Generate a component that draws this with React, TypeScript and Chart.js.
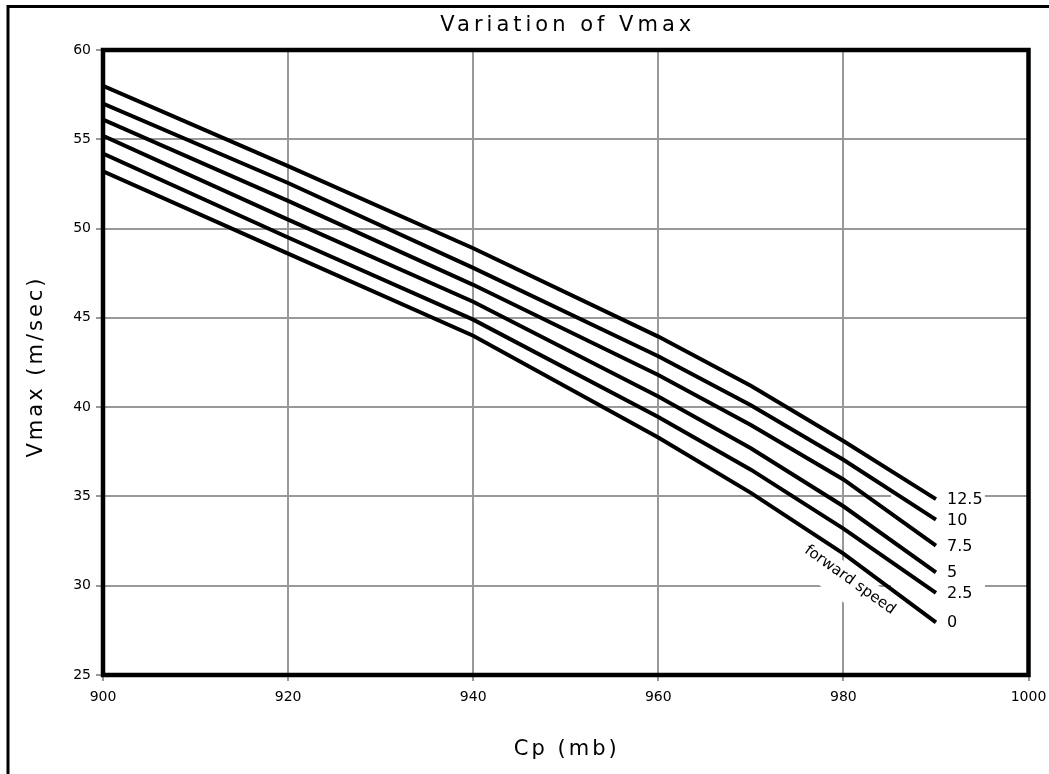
import React, { useEffect, useRef } from "react";
import { Chart, registerables } from "chart.js";

Chart.register(...registerables);

const cpValues = [900, 920, 940, 960, 970, 980, 990];
const speedLabels = ["12.5", "10", "7.5", "5", "2.5", "0"];
const vmax125 = [58.0, 53.5, 48.9, 43.95, 41.2, 38.1, 34.85];
const vmax10 = [57.0, 52.55, 47.8, 42.85, 40.1, 37.05, 33.7];
const vmax75 = [56.1, 51.55, 46.85, 41.8, 39.0, 35.95, 32.25];
const vmax5 = [55.2, 50.5, 45.9, 40.6, 37.7, 34.45, 30.75];
const vmax25 = [54.2, 49.5, 44.9, 39.45, 36.5, 33.2, 29.6];
const vmax0 = [53.2, 48.6, 44.0, 38.3, 35.2, 31.8, 27.95];
const seriesValues = [vmax125, vmax10, vmax75, vmax5, vmax25, vmax0];

const xTicks = [900, 920, 940, 960, 980, 1000];
const yTicks = [25, 30, 35, 40, 45, 50, 55, 60];

const chartTitle = "Variation of Vmax";
const xTitle = "Cp (mb)";
const yTitle = "Vmax (m/sec)";
const annotationText = "forward speed";

const FONT = "'DejaVu Sans', sans-serif";

export default function App() {
  const ref = useRef<HTMLCanvasElement | null>(null);

  useEffect(() => {
    document.body.style.margin = "0";
    const canvas = ref.current;
    if (!canvas) return;

    const decor = {
      id: "decor",
      beforeDraw(chart: any) {
        const ctx = chart.ctx;
        ctx.save();
        ctx.fillStyle = "#ffffff";
        ctx.fillRect(0, 0, chart.width, chart.height);
        ctx.strokeStyle = "#000";
        ctx.lineWidth = 3;
        ctx.beginPath();
        ctx.moveTo(8, chart.height + 2);
        ctx.lineTo(8, 6.5);
        ctx.lineTo(chart.width + 2, 6.5);
        ctx.stroke();
        ctx.restore();
      },
      beforeDatasetsDraw(chart: any) {
        const ctx = chart.ctx;
        const xs = chart.scales.x;
        const ys = chart.scales.y;
        const lastX = cpValues[cpValues.length - 1];
        ctx.save();
        ctx.fillStyle = "#ffffff";
        const x0 = xs.getPixelForValue(lastX) - 45;
        const x1 = xs.getPixelForValue(lastX) + 49;
        const y0 = ys.getPixelForValue(35) - 8;
        const y1 = ys.getPixelForValue(27.2);
        ctx.fillRect(x0, y0, x1 - x0, y1 - y0);
        const cx = xs.getPixelForValue(980.7);
        const cy = ys.getPixelForValue(30.32);
        ctx.translate(cx, cy);
        ctx.rotate((35.5 * Math.PI) / 180);
        ctx.fillRect(-64, -12, 128, 34);
        ctx.restore();
      },
      afterDatasetsDraw(chart: any) {
        const ctx = chart.ctx;
        const a = chart.chartArea;
        const xs = chart.scales.x;
        const ys = chart.scales.y;
        ctx.save();
        ctx.strokeStyle = "#000";
        ctx.lineWidth = 4.5;
        ctx.strokeRect(a.left, a.top, a.right - a.left, a.bottom - a.top);

        ctx.fillStyle = "#000";
        ctx.font = `16px ${FONT}`;
        ctx.textAlign = "left";
        ctx.textBaseline = "middle";
        const lastIdx = cpValues.length - 1;
        seriesValues.forEach((vals, i) => {
          const px = xs.getPixelForValue(cpValues[lastIdx]) + 11;
          const py = ys.getPixelForValue(vals[lastIdx]) + 1;
          ctx.fillText(speedLabels[i], px, py);
        });

        ctx.save();
        const cx = xs.getPixelForValue(980.7);
        const cy = ys.getPixelForValue(30.32);
        ctx.translate(cx, cy);
        ctx.rotate((35.5 * Math.PI) / 180);
        ctx.textAlign = "center";
        ctx.font = `15px ${FONT}`;
        ctx.fillText(annotationText, 0, 0);
        ctx.restore();

        const midX = (a.left + a.right) / 2;
        ctx.textAlign = "center";
        ctx.textBaseline = "middle";
        ctx.font = `21px ${FONT}`;
        (ctx as any).letterSpacing = "4px";
        ctx.fillText(chartTitle, midX + 2, 26);
        (ctx as any).letterSpacing = "3px";
        ctx.fillText(xTitle, midX + 1, 750);
        ctx.save();
        ctx.translate(37, (a.top + a.bottom) / 2 + 4);
        ctx.rotate(-Math.PI / 2);
        ctx.fillText(yTitle, 0, 0);
        ctx.restore();
        (ctx as any).letterSpacing = "0px";
        ctx.restore();
      },
    };

    const chart = new Chart(canvas, {
      type: "line",
      data: {
        datasets: seriesValues.map((vals, i) => ({
          label: speedLabels[i],
          data: cpValues.map((x, j) => ({ x, y: vals[j] })),
          borderColor: "#000",
          borderWidth: 4,
          pointRadius: 0,
          tension: 0,
          fill: false,
        })),
      },
      options: {
        animation: false,
        responsive: false,
        devicePixelRatio: 1,
        layout: { padding: { top: 50, right: 20.5, left: 0, bottom: 0 } },
        plugins: {
          legend: { display: false },
          title: { display: false },
          tooltip: { enabled: false },
        },
        scales: {
          x: {
            type: "linear",
            min: xTicks[0],
            max: xTicks[xTicks.length - 1],
            afterBuildTicks: (s: any) => {
              s.ticks = xTicks.map((v) => ({ value: v }));
            },
            ticks: {
              color: "#000",
              font: { family: FONT, size: 14 },
              padding: 8,
              maxRotation: 0,
              callback: (v: any) => String(v),
            },
            grid: { color: "#999999", lineWidth: 2, tickLength: 6 },
            border: { display: false },
            afterFit: (s: any) => {
              s.height = 99;
              s.paddingLeft = 0;
              s.paddingRight = 0;
            },
          },
          y: {
            type: "linear",
            min: yTicks[0],
            max: yTicks[yTicks.length - 1],
            afterBuildTicks: (s: any) => {
              s.ticks = yTicks.map((v) => ({ value: v }));
            },
            ticks: {
              color: "#000",
              font: { family: FONT, size: 14 },
              padding: 5,
              callback: (v: any) => String(v),
            },
            grid: { color: "#999999", lineWidth: 2, tickLength: 7 },
            border: { display: false },
            afterFit: (s: any) => {
              s.width = 103;
              s.paddingTop = 0;
              s.paddingBottom = 0;
            },
          },
        },
      },
      plugins: [decor],
    });

    return () => chart.destroy();
  }, []);

  return (
    <canvas
      ref={ref}
      width={1049}
      height={774}
      style={{ display: "block", width: 1049, height: 774 }}
    />
  );
}
